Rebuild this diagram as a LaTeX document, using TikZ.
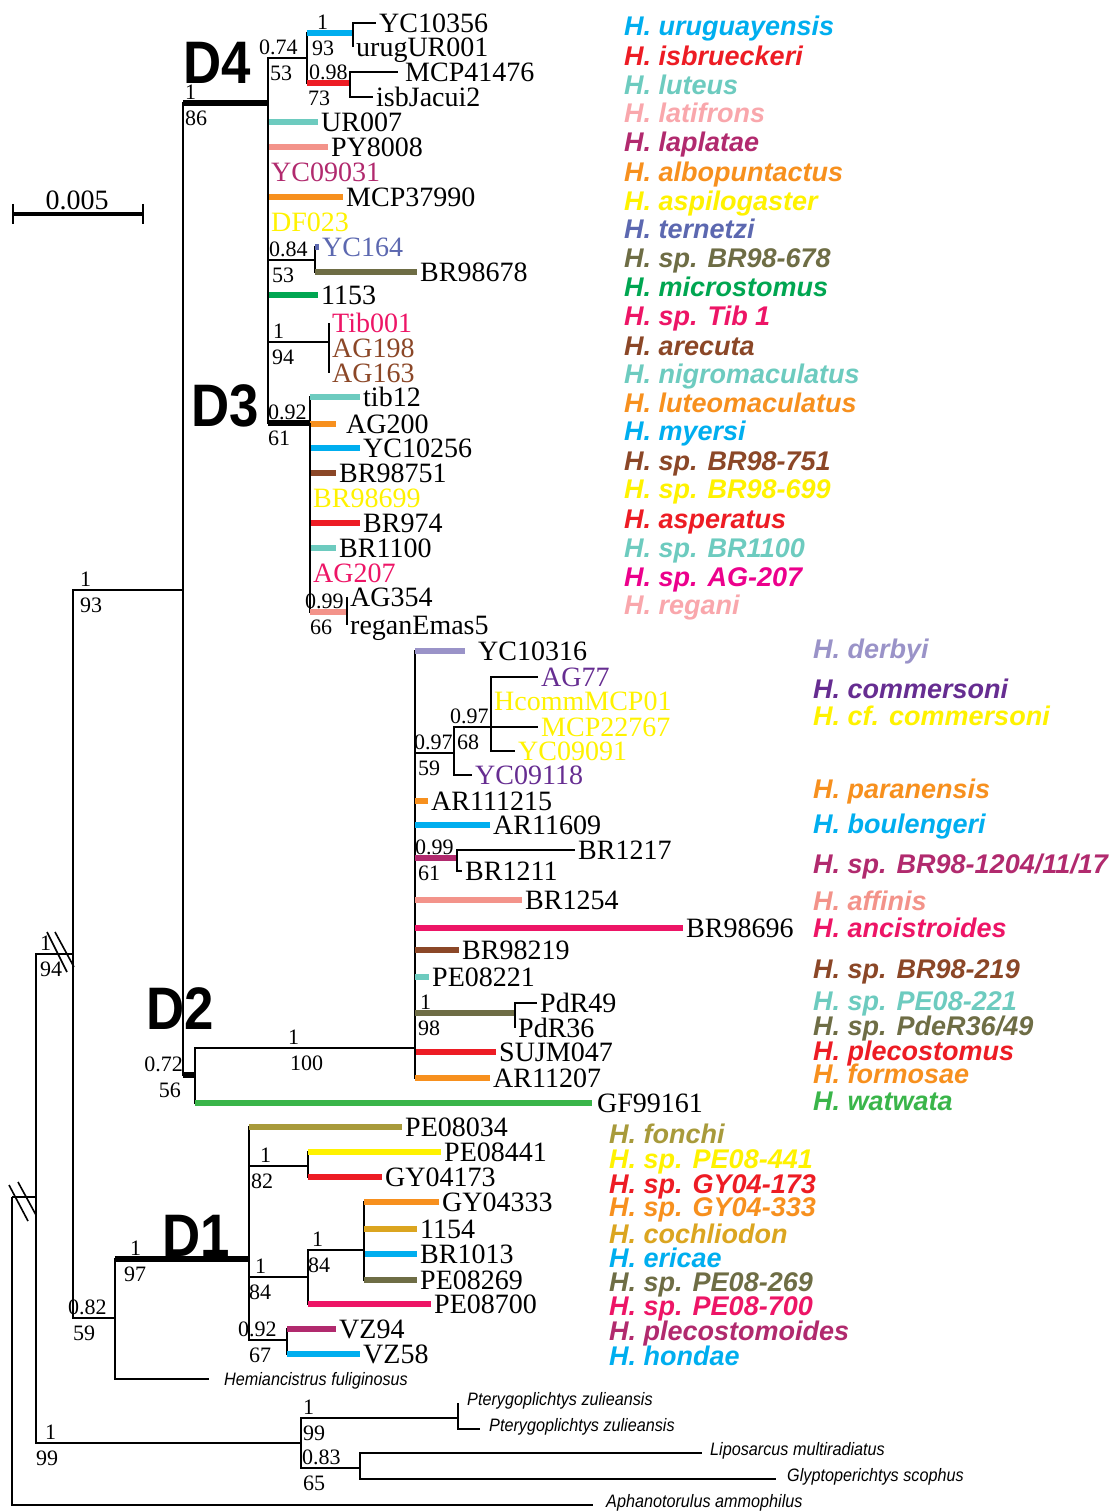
\documentclass[tikz,border=0pt]{standalone}
\usepackage{fontspec}
\setmainfont{Liberation Serif}
\setsansfont{Liberation Sans}
\usepackage{tikz}
\usetikzlibrary{positioning}

\definecolor{hcyan}{RGB}{0,174,239}
\definecolor{hred}{RGB}{237,28,36}
\definecolor{hturq}{RGB}{109,203,191}
\definecolor{hltpink}{RGB}{249,167,172}
\definecolor{hplum}{RGB}{177,42,110}
\definecolor{horange}{RGB}{247,144,30}
\definecolor{hyellow}{RGB}{255,242,0}
\definecolor{hslate}{RGB}{92,104,176}
\definecolor{hdrab}{RGB}{110,109,69}
\definecolor{hgreen}{RGB}{0,166,81}
\definecolor{hdpink}{RGB}{237,21,102}
\definecolor{hbrown}{RGB}{139,71,39}
\definecolor{hmagenta}{RGB}{236,0,140}
\definecolor{hlav}{RGB}{154,147,200}
\definecolor{hpurple}{RGB}{102,45,145}
\definecolor{hsalmon}{RGB}{243,147,138}
\definecolor{hwgreen}{RGB}{58,181,74}
\definecolor{holive}{RGB}{168,154,59}
\definecolor{hgold}{RGB}{219,165,32}

\tikzset{>=latex}
\tikzset{
  branch/.style={line width=2.3pt},
  thickbr/.style={line width=6.5pt},
  colbar/.style={line width=6.5pt, draw=#1},
  taxon/.style={font=\fontsize{28}{28}\selectfont, inner sep=0pt,
    text height=18.5pt, text depth=0pt, anchor=west},
  support/.style={font=\fontsize{22}{22}\selectfont, inner sep=0pt,
    text height=15pt, text depth=0pt},
  spname/.style={font=\sffamily\bfseries\itshape\fontsize{27}{27}\selectfont,
    inner sep=0pt, text height=19.5pt, text depth=0pt, anchor=west},
  outgroup/.style={font=\sffamily\itshape\fontsize{18}{18}\selectfont,
    inner sep=0pt, text height=13pt, text depth=0pt, anchor=west},
  cladelbl/.style={font=\sffamily\bfseries\fontsize{60}{60}\selectfont,
    inner sep=0pt, text height=43pt, text depth=0pt},
}

% inner node: {parent}{name}{x,y}
\newcommand{\innode}[3]{\coordinate (#2) at (#3); \draw[branch] (#1) |- (#2);}
% leaf, black name: [gap]{parent}{name}{x,y}{branch style}
\newcommand{\leaf}[5][3pt]{\coordinate (t#3) at (#4);
  \draw[branch] (#2) |- (t#3); \draw[#5] (#2 |- t#3) -- (t#3);
  \node[taxon, right=#1 of t#3] (l#3) {#3};}
% leaf on thin branch, coloured name: {parent}{name}{x,y}{colour}
\newcommand{\leafc}[4]{\coordinate (t#2) at (#3);
  \draw[branch] (#1) |- (t#2);
  \node[taxon, text=#4, right=3pt of t#2] (l#2) {#2};}
% zero-length leaf: {parent}{name}{y}{colour}
\newcommand{\leafz}[4]{\leafc{#1}{#2}{#1 |- 0,#3}{#4}}
% support values: {name}{point}{dx top}{top}{dx bottom}{bottom}
\newcommand{\bsup}[6]{%
  \node[support, anchor=south west, xshift=#3, yshift=3pt] (#1t) at (#2) {#4};
  \node[support, anchor=north west, xshift=#5, yshift=-7pt] (#1b) at (#2) {#6};}

\begin{document}
\begin{tikzpicture}[x=1pt,y=-1pt]
\useasboundingbox (0,0) rectangle (1110,1511);

% scale bar
\coordinate (sbA) at (13,214);
\coordinate (sbB) at (143,214);
\draw[line width=4.5pt] (sbA) -- (sbB);
\draw[branch] ([yshift=10pt]sbA) -- ([yshift=-10pt]sbA);
\draw[branch] ([yshift=10pt]sbB) -- ([yshift=-10pt]sbB);
\node[taxon, anchor=center] (sbL) at (77,200) {0.005};

% root and outgroups
\coordinate (root) at (12,1197);
\innode{root}{nA}{36,1197}
\coordinate (tAph) at (593,1505);
\draw[branch] (root) |- (tAph);
\node[outgroup, right=13pt of tAph, yshift=4pt] (lAph) {\scalebox{0.9}[1]{Aphanotorulus ammophilus}};
\innode{nA}{nOut}{301,1443}
\innode{nOut}{nPt}{458,1418}
\coordinate (tPt1) at (458,1403);
\coordinate (tPt2) at (480,1429);
\draw[branch] (nPt) |- (tPt1);
\draw[branch] (nPt) |- (tPt2);
\node[outgroup, right=9pt of tPt1, yshift=4pt] (lPt1) {\scalebox{0.9}[1]{Pterygoplichtys zulieansis}};
\node[outgroup, right=9pt of tPt2, yshift=4pt] (lPt2) {\scalebox{0.9}[1]{Pterygoplichtys zulieansis}};
\innode{nOut}{nLG}{360,1468}
\coordinate (tLip) at (702,1453);
\coordinate (tGly) at (776,1479);
\draw[branch] (nLG) |- (tLip);
\draw[branch] (nLG) |- (tGly);
\node[outgroup, right=8pt of tLip, yshift=4pt] (lLip) {\scalebox{0.9}[1]{Liposarcus multiradiatus}};
\node[outgroup, right=11pt of tGly, yshift=4pt] (lGly) {\scalebox{0.9}[1]{Glyptoperichtys scophus}};

% backbone
\innode{nA}{nB}{73,954}
\innode{nB}{nC}{183,590}
\innode{nB}{nD}{115,1318}
\innode{nC}{D4n}{268,103}
\draw[thickbr] (nC |- D4n) -- (D4n);
\innode{nC}{D2a}{195,1075}
\draw[thickbr] (nC |- D2a) -- (D2a);
\innode{nD}{D1n}{249,1259}
\draw[thickbr] (nD |- D1n) -- (D1n);
\coordinate (tHem) at (209,1379);
\draw[branch] (nD) |- (tHem);
\node[outgroup, right=15pt of tHem] (lHem) {\scalebox{0.9}[1]{Hemiancistrus fuliginosus}};
\draw[line width=1.6pt] (47,932) -- (67,972) (55,932) -- (74,967);
\draw[line width=1.6pt] (9,1185) -- (28,1221) (18,1182) -- (36,1215);

% D4
\innode{D4n}{n074}{307,58}
\innode{n074}{n193}{353,33}
\draw[colbar=hcyan] (n074 |- n193) -- (n193);
\leaf{n193}{YC10356}{376,23}{branch}
\leafz{n193}{urugUR001}{47}{black}
\innode{n074}{n098}{350,83}
\draw[colbar=hred] (n074 |- n098) -- (n098);
\leaf[7pt]{n098}{MCP41476}{398,72}{branch}
\leaf{n098}{isbJacui2}{373,97}{branch}
\leaf{D4n}{UR007}{318,122}{colbar=hturq}
\leaf{D4n}{PY8008}{328,147}{colbar=hsalmon}
\leafz{D4n}{YC09031}{172}{hplum}
\leaf{D4n}{MCP37990}{343,197}{colbar=horange}
\leafz{D4n}{DF023}{222}{hyellow}
\innode{D4n}{n084}{315,260}
\leafc{n084}{YC164}{319,247}{hslate}
\draw[colbar=hslate] (n084 |- tYC164) -- (tYC164);
\leaf{n084}{BR98678}{417,272}{colbar=hdrab}
\leaf{D4n}{1153}{318,295}{colbar=hgreen}
\innode{D4n}{n194}{329,342}
\leafz{n194}{Tib001}{323}{hdpink}
\leafz{n194}{AG198}{348}{hbrown}
\leafz{n194}{AG163}{373}{hbrown}

% D3
\innode{D4n}{D3n}{310,423}
\draw[thickbr] (D4n |- D3n) -- (D3n);
\leaf{D3n}{tib12}{360,397}{colbar=hturq}
\leaf[10pt]{D3n}{AG200}{336,424}{colbar=horange}
\leaf{D3n}{YC10256}{360,448}{colbar=hcyan}
\leaf{D3n}{BR98751}{336,473}{colbar=hbrown}
\leafz{D3n}{BR98699}{498}{hyellow}
\leaf{D3n}{BR974}{360,523}{colbar=hred}
\leaf{D3n}{BR1100}{336,548}{colbar=hturq}
\leafz{D3n}{AG207}{573}{hdpink}
\innode{D3n}{n099r}{347,612}
\draw[colbar=hsalmon] (D3n |- n099r) -- (n099r);
\leafz{n099r}{AG354}{597}{black}
\leafz{n099r}{reganEmas5}{625}{black}

% D2
\innode{D2a}{D2n}{415,1048}
\leaf[5pt]{D2a}{GF99161}{592,1103}{colbar=hwgreen}
\leaf[13pt]{D2n}{YC10316}{465,651}{colbar=hlav}
\innode{D2n}{n097a}{454,753}
\innode{n097a}{n097b}{491,727}
\leafc{n097b}{AG77}{538,677}{hpurple}
\leafz{n097b}{HcommMCP01}{701}{hyellow}
\leafc{n097b}{MCP22767}{538,727}{hyellow}
\leafc{n097b}{YC09091}{515,751}{hyellow}
\leafc{n097a}{YC09118}{472,775}{hpurple}
\leaf{D2n}{AR111215}{428,801}{colbar=horange}
\leaf{D2n}{AR11609}{490,825}{colbar=hcyan}
\innode{D2n}{n099b}{457,858}
\draw[colbar=hplum] (D2n |- n099b) -- (n099b);
\leaf{n099b}{BR1217}{575,850}{branch}
\leaf{n099b}{BR1211}{462,871}{branch}
\leaf{D2n}{BR1254}{522,900}{colbar=hsalmon}
\leaf{D2n}{BR98696}{683,928}{colbar=hdpink}
\leaf{D2n}{BR98219}{459,950}{colbar=hbrown}
\leaf{D2n}{PE08221}{429,977}{colbar=hturq}
\innode{D2n}{n198}{515,1013}
\draw[colbar=hdrab] (D2n |- n198) -- (n198);
\leaf{n198}{PdR49}{537,1003}{branch}
\leafz{n198}{PdR36}{1028}{black}
\leaf{D2n}{SUJM047}{496,1052}{colbar=hred}
\leaf{D2n}{AR11207}{490,1078}{colbar=horange}

% D1
\leaf{D1n}{PE08034}{402,1127}{colbar=holive}
\innode{D1n}{n182}{308,1166}
\leaf{n182}{PE08441}{441,1152}{colbar=hyellow}
\leaf{n182}{GY04173}{382,1177}{colbar=hred}
\innode{D1n}{n184a}{308,1277}
\innode{n184a}{n184b}{364,1250}
\leaf{n184b}{GY04333}{439,1202}{colbar=horange}
\leaf{n184b}{1154}{417,1229}{colbar=hgold}
\leaf{n184b}{BR1013}{417,1254}{colbar=hcyan}
\leaf{n184b}{PE08269}{417,1280}{colbar=hdrab}
\leaf{n184a}{PE08700}{431,1304}{colbar=hdpink}
\innode{D1n}{n092}{287,1340}
\leaf{n092}{VZ94}{336,1329}{colbar=hplum}
\leaf{n092}{VZ58}{360,1354}{colbar=hcyan}

% support values
\bsup{sA}{nA |- nB}{4pt}{1}{4pt}{94}
\bsup{sB}{nB |- nC}{7pt}{1}{7pt}{93}
\bsup{sC}{nC |- D4n}{2pt}{1}{2pt}{86}
\bsup{s074}{D4n |- n074}{-9pt}{0.74}{2pt}{53}
\bsup{s193}{n074 |- n193}{10pt}{1}{5pt}{93}
\bsup{s098}{n074 |- n098}{2pt}{0.98}{1pt}{73}
\bsup{s084}{D4n |- n084}{1pt}{0.84}{4pt}{53}
\bsup{s194}{D4n |- n194}{5pt}{1}{4pt}{94}
\bsup{sD3}{D4n |- D3n}{0pt}{0.92}{0pt}{61}
\bsup{s099r}{D3n |- n099r}{-5pt}{0.99}{0pt}{66}
\bsup{sD2}{D2a |- D2n}{93pt}{1}{95pt}{100}
\bsup{s097a}{D2n |- n097a}{-1pt}{0.97}{3pt}{59}
\bsup{s097b}{n097a |- n097b}{-4pt}{0.97}{3pt}{68}
\bsup{s099b}{D2n |- n099b}{0pt}{0.99}{3pt}{61}
\bsup{s198}{D2n |- n198}{5pt}{1}{3pt}{98}
\bsup{sD}{nB |- nD}{-5pt}{0.82}{0pt}{59}
\bsup{sD1}{nD |- D1n}{15pt}{1}{9pt}{97}
\bsup{s182}{D1n |- n182}{11pt}{1}{2pt}{82}
\bsup{s184a}{D1n |- n184a}{6pt}{1}{0pt}{84}
\bsup{s184b}{n184a |- n184b}{4pt}{1}{0pt}{84}
\bsup{s092}{D1n |- n092}{-11pt}{0.92}{0pt}{67}
\bsup{sOut}{nA |- nOut}{9pt}{1}{0pt}{99}
\bsup{sPt}{nOut |- nPt}{2pt}{1}{2pt}{99}
\bsup{sLG}{nOut |- nLG}{1pt}{0.83}{2pt}{65}
\node[support, anchor=south east, yshift=3pt] (s072t) at (nC |- D2a) {0.72};
\node[support, anchor=north east, xshift=-2pt, yshift=-7pt] (s072b) at (nC |- D2a) {56};

% clade labels
\node[cladelbl] (cD4) at (217,62) {\scalebox{0.88}[1]{D4}};
\node[cladelbl] (cD3) at (225,405) {\scalebox{0.88}[1]{D3}};
\node[cladelbl] (cD2) at (180,1008) {\scalebox{0.88}[1]{D2}};
\node[cladelbl] (cD1) at (196,1235) {\scalebox{0.88}[1]{D1}};

% species legend
\foreach \t/\c/\y in {uruguayensis/hcyan/26, isbrueckeri/hred/56, luteus/hturq/85,
    latifrons/hltpink/113, laplatae/hplum/142, albopuntactus/horange/172,
    aspilogaster/hyellow/201, ternetzi/hslate/229, sp. BR98-678/hdrab/258,
    microstomus/hgreen/287, sp. Tib 1/hdpink/316, arecuta/hbrown/346,
    nigromaculatus/hturq/374, luteomaculatus/horange/403, myersi/hcyan/431,
    sp. BR98-751/hbrown/461, sp. BR98-699/hyellow/489, asperatus/hred/519,
    sp. BR1100/hturq/548, sp. AG-207/hmagenta/577, regani/hltpink/605}
  \node[spname, text=\c] (sp\y) at (624,\y) {H. \t};
\foreach \t/\c/\y in {derbyi/hlav/649, commersoni/hpurple/689,
    cf. commersoni/hyellow/716, paranensis/horange/789, boulengeri/hcyan/824,
    sp. BR98-1204\slash 11\slash 17/hplum/864, affinis/hsalmon/901,
    ancistroides/hdpink/928, sp. BR98-219/hbrown/969, sp. PE08-221/hturq/1001,
    sp. PdeR36\slash 49/hdrab/1026, plecostomus/hred/1051,
    formosae/horange/1074, watwata/hwgreen/1101}
  \node[spname, text=\c] (sp\y) at (813,\y) {H. \t};
\foreach \t/\c/\y in {fonchi/holive/1134, sp. PE08-441/hyellow/1159,
    sp. GY04-173/hred/1184, sp. GY04-333/horange/1207, cochliodon/hgold/1234,
    ericae/hcyan/1258, sp. PE08-269/hdrab/1282, sp. PE08-700/hdpink/1306,
    plecostomoides/hplum/1331, hondae/hcyan/1356}
  \node[spname, text=\c] (sp\y) at (609,\y) {H. \t};
\end{tikzpicture}
\end{document}
